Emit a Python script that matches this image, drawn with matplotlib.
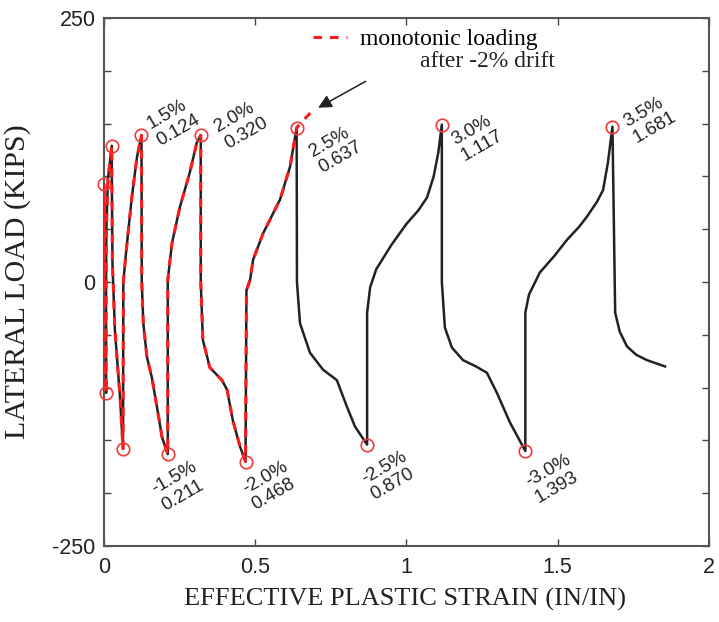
import numpy as np
import matplotlib.pyplot as plt
from matplotlib.ticker import MultipleLocator

plt.rcParams['axes.unicode_minus'] = False

# cyclic response, effective plastic strain (in/in) vs lateral load (kips)
strain = [0.0, 0.0,
          0.001, 0.004, 0.007,
          0.007, 0.008, 0.013, 0.026,
          0.026, 0.028, 0.036, 0.053, 0.063,
          0.064, 0.073, 0.092, 0.109, 0.124,
          0.125, 0.130, 0.142, 0.158, 0.175, 0.192, 0.211,
          0.211, 0.225, 0.251, 0.284, 0.307, 0.320,
          0.320, 0.327, 0.350, 0.390, 0.407, 0.426, 0.450, 0.468,
          0.471, 0.483, 0.493, 0.526, 0.582, 0.615, 0.637,
          0.638, 0.648, 0.681, 0.724, 0.770, 0.803, 0.830, 0.870,
          0.870, 0.880, 0.900, 0.950, 1.000, 1.040, 1.068, 1.090, 1.105, 1.117,
          1.117, 1.127, 1.150, 1.187, 1.230, 1.266, 1.299, 1.342, 1.393,
          1.393, 1.405, 1.441, 1.490, 1.531, 1.570, 1.597, 1.630, 1.650, 1.666, 1.681,
          1.686, 1.690, 1.705, 1.729, 1.760, 1.795, 1.855]
load = [0, 93,
        20, -60, -105,
        0, 50, 97, 129,
        100, 18, -45, -109, -158,
        0, 28, 80, 118, 139,
        0, -39, -71, -90, -118, -147, -163,
        2, 37, 71, 104, 132, 139,
        0, -55, -81, -93, -102, -131, -156, -170,
        -8, 2, 21, 46, 78, 109, 146,
        0, -39, -67, -83, -93, -118, -137, -154,
        -29, -5, 12, 35, 55, 68, 80, 100, 122, 149,
        0, -43, -62, -74, -80, -86, -105, -133, -160,
        -29, -12, 9, 25, 40, 52, 62, 76, 87, 113, 147,
        50, -29, -47, -61, -69, -74, -80]

# monotonic loading after -2% drift: follows the cyclic curve to the 2.5% peak, then goes on
mono_end = strain.index(0.637) + 1
mono_strain = strain[:mono_end] + [0.655, 0.682]
mono_load = load[:mono_end] + [152, 160]

# drift peaks (red circles)
peak_strain = [0.0, 0.007, 0.026, 0.063, 0.124, 0.211, 0.320, 0.468,
               0.637, 0.870, 1.117, 1.393, 1.681]
peak_load = [93, -105, 129, -158, 139, -163, 139, -170, 146, -154, 149, -160, 147]

drift_labels = ['1.5%', '-1.5%', '2.0%', '-2.0%', '2.5%', '-2.5%', '3.0%', '-3.0%', '3.5%']
label_strain = [0.124, 0.211, 0.320, 0.468, 0.637, 0.870, 1.117, 1.393, 1.681]
label_load = [139, -163, 139, -170, 146, -154, 149, -160, 147]
# text offsets from the circles, in pixels
label_offset = [(21, -14), (-1, -60), (29, -17), (12, -52), (28, -49),
                (9, -59), (25, -40), (15, -56), (26, -20)]

sans = ['Liberation Sans', 'DejaVu Sans']
serif = ['Liberation Serif', 'DejaVu Serif']

fig = plt.figure(figsize=(7.19, 6.22), dpi=100)
ax = fig.add_axes([0.1446, 0.1222, 0.8414, 0.8489])

ax.plot(strain, load, color='#222222', lw=1.8, zorder=2)
ax.plot(mono_strain, mono_load, color='#ff1a1a', lw=2.2, dashes=(2.8, 2.6),
        zorder=3, label='monotonic loading')
ax.plot(peak_strain, peak_load, 'o', ms=9, mfc='none', mec='#f03a3a', mew=1.2,
        zorder=4, clip_on=False)

for txt, x, y, off in zip(drift_labels, label_strain, label_load, label_offset):
    ax.annotate('%s\n%.3f' % (txt, x), xy=(x, y), xytext=off, textcoords='offset pixels',
                rotation=30, rotation_mode='anchor', ha='left', va='bottom',
                multialignment='left', fontsize=13.5, family=sans, color='#222222',
                linespacing=1.15)

ax.annotate('', xy=(0.708, 165), xytext=(0.865, 190),
            arrowprops=dict(arrowstyle='-|>', color='#222222', lw=1.1, mutation_scale=20,
                            shrinkA=0, shrinkB=0))

leg = ax.legend(loc='upper left', bbox_to_anchor=(0.345, 0.98), frameon=False,
                borderpad=0, borderaxespad=0, handlelength=1.45, handletextpad=0.55,
                prop={'family': serif, 'size': 17})
ax.text(0.745, 0.917, 'after -2% drift', transform=ax.transAxes, ha='right', va='center',
        fontsize=17, family=serif, color='#222222')

ax.set_xlim(0, 2)
ax.set_ylim(-250, 250)
ax.yaxis.set_major_locator(MultipleLocator(250))
ax.yaxis.set_minor_locator(MultipleLocator(50))
ax.set_xticks([0, 0.5, 1, 1.5, 2], ['0', '0.5', '1', '1.5', '2'])
ax.tick_params(which='both', direction='in', top=True, right=True, length=5,
               width=1, color='#444444', labelsize=15.5, pad=6)
ax.tick_params(axis='x', pad=8)
for lab in ax.get_xticklabels() + ax.get_yticklabels():
    lab.set_family(sans)
    lab.set_color('#222222')
for sp in ax.spines.values():
    sp.set_color('#555555')
    sp.set_linewidth(1.5)

ax.set_xlabel('EFFECTIVE PLASTIC STRAIN (IN/IN)', family=serif, fontsize=19, color='#222222')
ax.set_ylabel('LATERAL LOAD (KIPS)', family=serif, fontsize=21.5, color='#222222')
ax.xaxis.set_label_coords(0.497, -0.08)
ax.yaxis.set_label_coords(-0.12, 0.5)

fig.savefig('out.png', dpi=100)
